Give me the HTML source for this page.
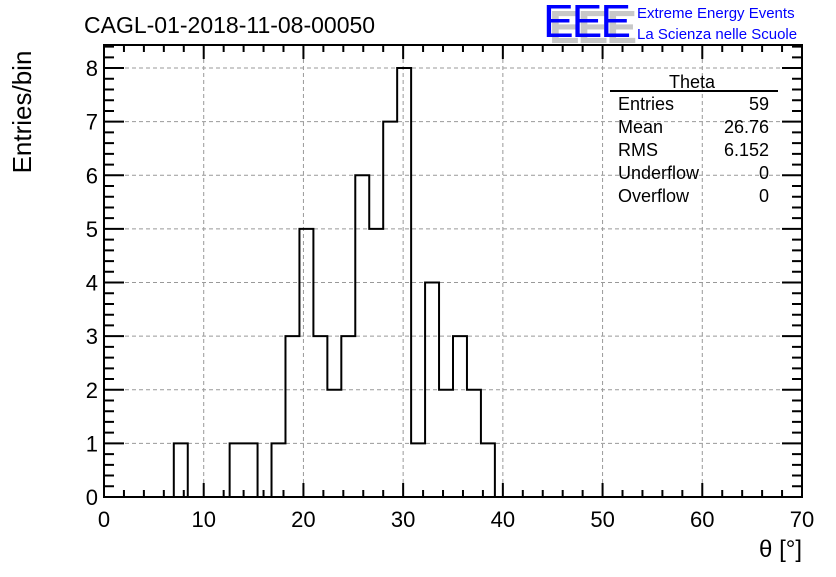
<!DOCTYPE html>
<html><head><meta charset="utf-8"><style>
body{margin:0;background:#fff;width:836px;height:572px;overflow:hidden;font-family:"Liberation Sans",sans-serif}
</style></head><body>
<svg id="c" width="836" height="572" xmlns="http://www.w3.org/2000/svg" font-family="Liberation Sans, sans-serif">
<text x="84" y="33" font-size="23">CAGL-01-2018-11-08-00050</text>
<g>
<text x="546" y="40" font-size="46" fill="#c8c8c8" font-weight="bold" letter-spacing="-2" transform="translate(3,3)">EEE</text>
<text x="543" y="37" font-size="46" fill="#0000ff" letter-spacing="-2">EEE</text>
<text x="637" y="18" font-size="15" fill="#0000ff">Extreme Energy Events</text>
<text x="637" y="39" font-size="15" fill="#0000ff">La Scienza nelle Scuole</text>
</g>
<g id="grid"></g>
<g id="ticks"></g>
<path id="hist" fill="none" stroke="#000" stroke-width="2"/>
<rect x="104" y="45" width="698" height="452" fill="none" stroke="#000" stroke-width="2"/>
<g id="labels" font-size="22"></g>
<text x="31" y="112" font-size="26" transform="rotate(-90 31 112)" text-anchor="middle">Entries/bin</text>
<text x="802" y="557" font-size="24" text-anchor="end">θ [°]</text>
<g font-size="18">
<text x="692" y="88" text-anchor="middle">Theta</text>
<line x1="610" y1="91" x2="778" y2="91" stroke="#000" stroke-width="2"/>
<text x="618" y="110">Entries</text><text x="769" y="110" text-anchor="end">59</text>
<text x="618" y="133">Mean</text><text x="769" y="133" text-anchor="end">26.76</text>
<text x="618" y="156">RMS</text><text x="769" y="156" text-anchor="end">6.152</text>
<text x="618" y="179">Underflow</text><text x="769" y="179" text-anchor="end">0</text>
<text x="618" y="202">Overflow</text><text x="769" y="202" text-anchor="end">0</text>
</g>
</svg>
<script>
const binCounts=[0,0,0,0,0,1,0,0,0,1,1,0,1,3,5,3,2,3,6,5,7,8,1,4,2,3,2,1,0,0,0,0,0,0,0,0,0,0,0,0,0,0,0,0,0,0,0,0,0,0];
const xTickLabels=[0,10,20,30,40,50,60,70];
const yTickLabels=[0,1,2,3,4,5,6,7,8];
const xMin=0,xMax=70,yMin=0,yMax=8.43;
const L=104,R=802,T=45,B=497;
const sx=v=>L+(v-xMin)/(xMax-xMin)*(R-L);
const sy=v=>B-(v-yMin)/(yMax-yMin)*(B-T);
const NS='http://www.w3.org/2000/svg';
function mk(t,a,p){const e=document.createElementNS(NS,t);for(const k in a)e.setAttribute(k,a[k]);p.appendChild(e);return e;}
const grid=document.getElementById('grid'),ticks=document.getElementById('ticks'),labels=document.getElementById('labels');
xTickLabels.forEach(v=>{
 if(v>xMin&&v<xMax){const g=mk('line',{x1:sx(v),x2:sx(v),y1:T,y2:B,stroke:'#999','stroke-dasharray':'4,3'},grid);
 
 }
 const t=mk('text',{x:sx(v),y:527,'text-anchor':'middle'},labels);t.textContent=v;
 
 
});
yTickLabels.forEach(v=>{
 if(v>yMin){const g=mk('line',{x1:L,x2:R,y1:sy(v),y2:sy(v),stroke:'#999','stroke-dasharray':'4,3'},grid);
 
 }
 const t=mk('text',{x:98,y:sy(v)+8,'text-anchor':'end'},labels);t.textContent=v;
 
 
});
let d='';
for(let v=0;v<=xMax+0.001;v+=2){const len=(v%10===0)?14:7;
 d+=`M${sx(v)} ${B}v${-len}M${sx(v)} ${T}v${len}`;}
for(let i=0;i<=42;i++){const v=i*0.2;if(v>yMax)break;const len=(i%5===0)?20:10;
 d+=`M${L} ${sy(v)}h${len}M${R} ${sy(v)}h${-len}`;}
const tk=mk('path',{d:d,stroke:'#000','stroke-width':2,fill:'none'},ticks);


const w=(xMax-xMin)/binCounts.length;
let p=`M${sx(0)} ${sy(0)}`;
binCounts.forEach((c,i)=>{p+=`L${sx(i*w)} ${sy(c)}L${sx((i+1)*w)} ${sy(c)}`;});
p+=`L${sx(xMax)} ${sy(0)}`;
document.getElementById('hist').setAttribute('d',p);
</script>
</body></html>
